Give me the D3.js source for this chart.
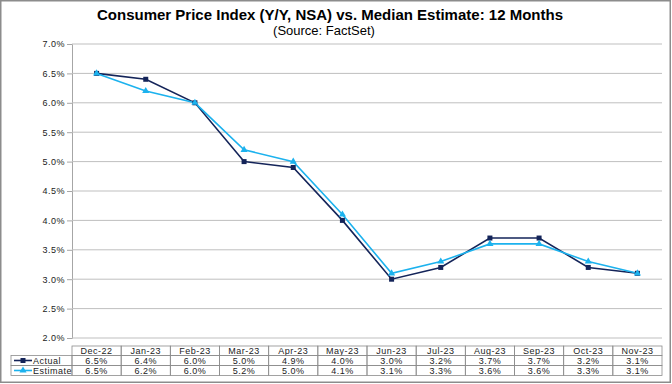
<!DOCTYPE html>
<html>
<head>
<meta charset="utf-8">
<script src="https://cdn.jsdelivr.net/npm/d3@7"></script>
<style>
  body { margin: 0; background: #fff; }
  svg text { font-family: Arial, "Liberation Sans", sans-serif; }
</style>
</head>
<body>
<div id="chart"></div>
<script>
// data
let months = ['Dec-22', 'Jan-23', 'Feb-23', 'Mar-23', 'Apr-23', 'May-23', 'Jun-23',
    'Jul-23', 'Aug-23', 'Sep-23', 'Oct-23', 'Nov-23'];
let actual = [6.5, 6.4, 6.0, 5.0, 4.9, 4.0, 3.0, 3.2, 3.7, 3.7, 3.2, 3.1];
let estimate = [6.5, 6.2, 6.0, 5.2, 5.0, 4.1, 3.1, 3.3, 3.6, 3.6, 3.3, 3.1];
let yTicks = [2.0, 2.5, 3.0, 3.5, 4.0, 4.5, 5.0, 5.5, 6.0, 6.5, 7.0];

let width = 672;
let height = 384;
let plot = { left: 72, right: 662, top: 44, bottom: 338 };

let navy = '#142459';
let sky = '#1cb2ee';
let smallFont = '9px';
let smallSpacing = '0.5px';

let svg = d3.select('#chart')
    .append('svg')
    .attr('width', width)
    .attr('height', height);

// outer frame
svg.append('rect')
    .attr('x', 0.75).attr('y', 0.75)
    .attr('width', 669.5).attr('height', 381.5)
    .attr('fill', 'none')
    .attr('stroke', '#8c8c8c')
    .attr('stroke-width', 1.5);

// titles
svg.append('text')
    .text('Consumer Price Index (Y/Y, NSA) vs. Median Estimate: 12 Months')
    .attr('x', 330).attr('y', 20)
    .attr('text-anchor', 'middle')
    .style('font-size', '15px')
    .style('font-weight', 'bold');

svg.append('text')
    .text('(Source: FactSet)')
    .attr('x', 324).attr('y', 35)
    .attr('text-anchor', 'middle')
    .style('font-size', '13px');

// scales
let x = d3.scaleBand()
    .domain(months)
    .range([plot.left, plot.right]);

let y = d3.scaleLinear()
    .domain([2, 7])
    .range([plot.bottom, plot.top]);

let cx = d => x(d) + x.bandwidth() / 2;

// gridlines + y axis
let yAxis = svg.append('g')
    .attr('transform', `translate(${plot.left},0)`)
    .call(d3.axisLeft(y)
        .tickValues(yTicks)
        .tickSize(5)
        .tickPadding(2)
        .tickFormat(d => d.toFixed(1) + '%'));

yAxis.select('.domain').attr('stroke', '#a6a6a6');
yAxis.selectAll('.tick line').attr('stroke', '#a6a6a6');
yAxis.selectAll('.tick text')
    .style('font-size', smallFont)
    .style('letter-spacing', smallSpacing)
    .attr('fill', '#222');

svg.append('g')
    .selectAll('line')
    .data(yTicks)
    .enter()
    .append('line')
    .attr('x1', plot.left)
    .attr('x2', plot.right)
    .attr('y1', d => y(d))
    .attr('y2', d => y(d))
    .attr('stroke', '#bfbfbf')
    .attr('stroke-width', 1);

// lines
let line = d3.line()
    .x((d, i) => cx(months[i]))
    .y(d => y(d));

svg.append('path')
    .datum(actual)
    .attr('d', line)
    .attr('fill', 'none')
    .attr('stroke', navy)
    .attr('stroke-width', 1.6);

svg.append('path')
    .datum(estimate)
    .attr('d', line)
    .attr('fill', 'none')
    .attr('stroke', sky)
    .attr('stroke-width', 1.6);

// markers
svg.append('g')
    .selectAll('rect')
    .data(actual)
    .enter()
    .append('rect')
    .attr('x', (d, i) => cx(months[i]) - 2.5)
    .attr('y', d => y(d) - 2.5)
    .attr('width', 5)
    .attr('height', 5)
    .attr('fill', navy);

let tri = d3.symbol().type(d3.symbolTriangle).size(22);

svg.append('g')
    .selectAll('path')
    .data(estimate)
    .enter()
    .append('path')
    .attr('d', tri)
    .attr('transform', (d, i) => `translate(${cx(months[i])},${y(d)})`)
    .attr('fill', sky);

// data table under the chart
let rowTop = [346, 355.5, 365.5];
let rowH = [9.5, 10, 10];
let tableStroke = '#8c8c8c';
let rows = [
    { name: null, values: months },
    { name: 'Actual', values: actual.map(v => v.toFixed(1) + '%'), color: navy, mark: 'square' },
    { name: 'Estimate', values: estimate.map(v => v.toFixed(1) + '%'), color: sky, mark: 'triangle' }
];

let table = svg.append('g');

rows.forEach((row, r) => {
    let top = rowTop[r];
    let h = rowH[r];

    table.selectAll(null)
        .data(months)
        .enter()
        .append('rect')
        .attr('x', d => x(d))
        .attr('y', top)
        .attr('width', x.bandwidth())
        .attr('height', h)
        .attr('fill', 'none')
        .attr('stroke', tableStroke)
        .attr('stroke-width', 0.8);

    table.selectAll(null)
        .data(row.values)
        .enter()
        .append('text')
        .text(d => d)
        .attr('x', (d, i) => cx(months[i]))
        .attr('y', top + h / 2 + 3.2)
        .attr('text-anchor', 'middle')
        .style('font-size', smallFont)
        .style('letter-spacing', smallSpacing)
        .attr('fill', '#222');

    if (row.name) {
        table.append('rect')
            .attr('x', 11)
            .attr('y', top)
            .attr('width', plot.left - 11)
            .attr('height', h)
            .attr('fill', 'none')
            .attr('stroke', tableStroke)
            .attr('stroke-width', 0.8);

        let my = top + h / 2;
        table.append('line')
            .attr('x1', 14).attr('x2', 32)
            .attr('y1', my).attr('y2', my)
            .attr('stroke', row.color)
            .attr('stroke-width', 1.6);

        if (row.mark === 'square') {
            table.append('rect')
                .attr('x', 20.5).attr('y', my - 2.5)
                .attr('width', 5).attr('height', 5)
                .attr('fill', row.color);
        } else {
            table.append('path')
                .attr('d', tri)
                .attr('transform', `translate(23,${my})`)
                .attr('fill', row.color);
        }

        table.append('text')
            .text(row.name)
            .attr('x', 33)
            .attr('y', my + 3.2)
            .style('font-size', smallFont)
            .style('letter-spacing', smallSpacing)
            .attr('fill', '#222');
    }
});
</script>
</body>
</html>
